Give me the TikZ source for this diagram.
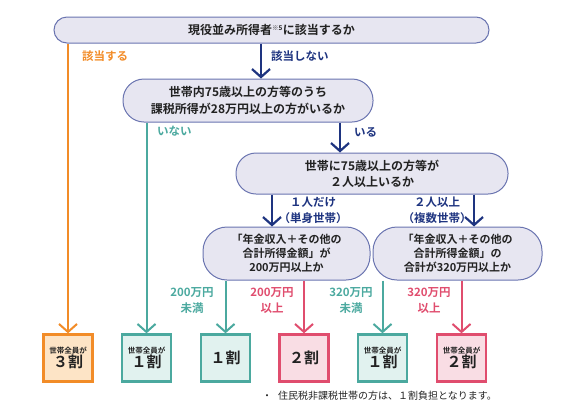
\documentclass[tikz,border=0pt]{standalone}
\usepackage{fontspec}
\setmainfont{Noto Sans CJK JP}[BoldFont={Noto Sans CJK JP Bold}]
\usetikzlibrary{arrows.meta}

\definecolor{navy}{HTML}{1E3480}
\definecolor{pillline}{HTML}{6A74B0}
\definecolor{pillfill}{HTML}{E7E6F1}
\definecolor{orng}{HTML}{F28C28}
\definecolor{orngfill}{HTML}{FDE4C6}
\definecolor{teal}{HTML}{4BA99F}
\definecolor{tealfill}{HTML}{E1F2EF}
\definecolor{pink}{HTML}{E04D6E}
\definecolor{pinkfill}{HTML}{F9DDE4}
\definecolor{txt}{HTML}{222222}

\tikzset{
  pill/.style={draw=pillline, fill=pillfill, line width=1pt, align=center,
    text=txt, font=\bfseries\fontsize{12}{17}\selectfont, inner sep=2pt},
  result/.style={line width=2.4pt, minimum width=49pt, minimum height=47pt,
    inner sep=0pt, align=center, text=txt, font=\bfseries},
  navyarrow/.style={navy, line width=2.2pt, -{Straight Barb[length=8pt,width=18pt,line width=2.2pt]}},
  branch/.style={line width=2pt, -{Straight Barb[length=8pt,width=18pt,line width=2pt]}},
  lbl/.style={font=\bfseries\fontsize{11.5}{16}\selectfont, align=center, inner sep=0pt},
}

\newcommand{\allof}[1]{{\fontsize{7.5}{9}\selectfont 世帯全員が}\\[0pt]{\fontsize{15}{17}\selectfont #1}}
\newcommand{\only}[1]{{\fontsize{15}{17}\selectfont #1}}

\begin{document}
\begin{tikzpicture}[x=1pt, y=-1pt]
\useasboundingbox (0,0) rectangle (567,405);

%% ---- Questions ----
\node[pill, minimum width=435pt, minimum height=26pt, rounded corners=13pt]
    (q1) at (271.5,30) {現役並み所得者\textsuperscript{\fontsize{6.5}{6.5}\selectfont ※5}に該当するか};
\node[pill, minimum width=250pt, minimum height=43pt, rounded corners=21pt]
    (q2) at (248,100.5) {世帯内75歳以上の方等のうち\\課税所得が28万円以上の方がいるか};
\node[pill, minimum width=272pt, minimum height=41pt, rounded corners=20pt,
      font=\bfseries\fontsize{12}{16}\selectfont]
    (q3) at (372,173.5) {世帯に75歳以上の方等が\\２人以上いるか};
\node[pill, minimum width=167pt, minimum height=53pt, rounded corners=24pt,
      font=\bfseries\fontsize{11}{14}\selectfont]
    (q4a) at (286.5,253.5) {「年金収入＋その他の\\合計所得金額」が\\200万円以上か};
\node[pill, minimum width=169pt, minimum height=53pt, rounded corners=24pt,
      font=\bfseries\fontsize{11}{14}\selectfont]
    (q4b) at (457.5,253.5) {「年金収入＋その他の\\合計所得金額」の\\合計が320万円以上か};

%% ---- Results ----
\node[result, draw=orng, fill=orngfill] (r1) at (68,358)    {\allof{３割}};
\node[result, draw=teal, fill=tealfill] (r2) at (146.5,358) {\allof{１割}};
\node[result, draw=teal, fill=tealfill] (r3) at (225.5,358) {\only{１割}};
\node[result, draw=pink, fill=pinkfill] (r4) at (304,358)   {\only{２割}};
\node[result, draw=teal, fill=tealfill] (r5) at (382.5,358) {\allof{１割}};
\node[result, draw=pink, fill=pinkfill] (r6) at (461.5,358) {\allof{２割}};

%% ---- Arrows ----
\draw[branch, orng] (r1 |- q1.south) -- (r1.north);
\draw[navyarrow] ([xshift=-10.5pt]q1.south) -- ([xshift=-10.5pt]q1.south |- q2.north);
\draw[branch, teal] (r2 |- q2.south) -- (r2.north);
\draw[navyarrow] ([xshift=-32pt]q3.north |- q2.south) -- ([xshift=-32pt]q3.north);
\draw[navyarrow] ([xshift=-14.5pt]q4a.north |- q3.south) -- ([xshift=-14.5pt]q4a.north);
\draw[navyarrow] ([xshift=16.5pt]q4b.north |- q3.south) -- ([xshift=16.5pt]q4b.north);
\draw[branch, teal] (r3 |- q4a.south) -- (r3.north);
\draw[branch, pink] (r4 |- q4a.south) -- (r4.north);
\draw[branch, teal] (r5 |- q4b.south) -- (r5.north);
\draw[branch, pink] (r6 |- q4b.south) -- (r6.north);

%% ---- Labels ----
\node[lbl, orng] (l1) at (105,56) {該当する};
\node[lbl, navy, anchor=west] (l2) at (271,56) {該当しない};
\node[lbl, teal, anchor=west] (l3) at (157,131) {いない};
\node[lbl, navy, anchor=west] (l4) at (354,132) {いる};
\node[lbl, navy] (l5) at (313,210) {１人だけ\\（単身世帯）};
\node[lbl, navy] (l6) at (437,210) {２人以上\\（複数世帯）};
\node[lbl, teal] (l7) at (192,300) {200万円\\未満};
\node[lbl, pink] (l8) at (272,300) {200万円\\以上};
\node[lbl, teal] (l9) at (351,300) {320万円\\未満};
\node[lbl, pink] (l10) at (429,300) {320万円\\以上};

%% ---- Note ----
\node[anchor=west, text=txt, font=\fontsize{10}{11}\selectfont, inner sep=0pt]
    (note) at (262,396) {・\hspace{6pt}住民税非課税世帯の方は、１割負担となります。};

\end{tikzpicture}
\end{document}
